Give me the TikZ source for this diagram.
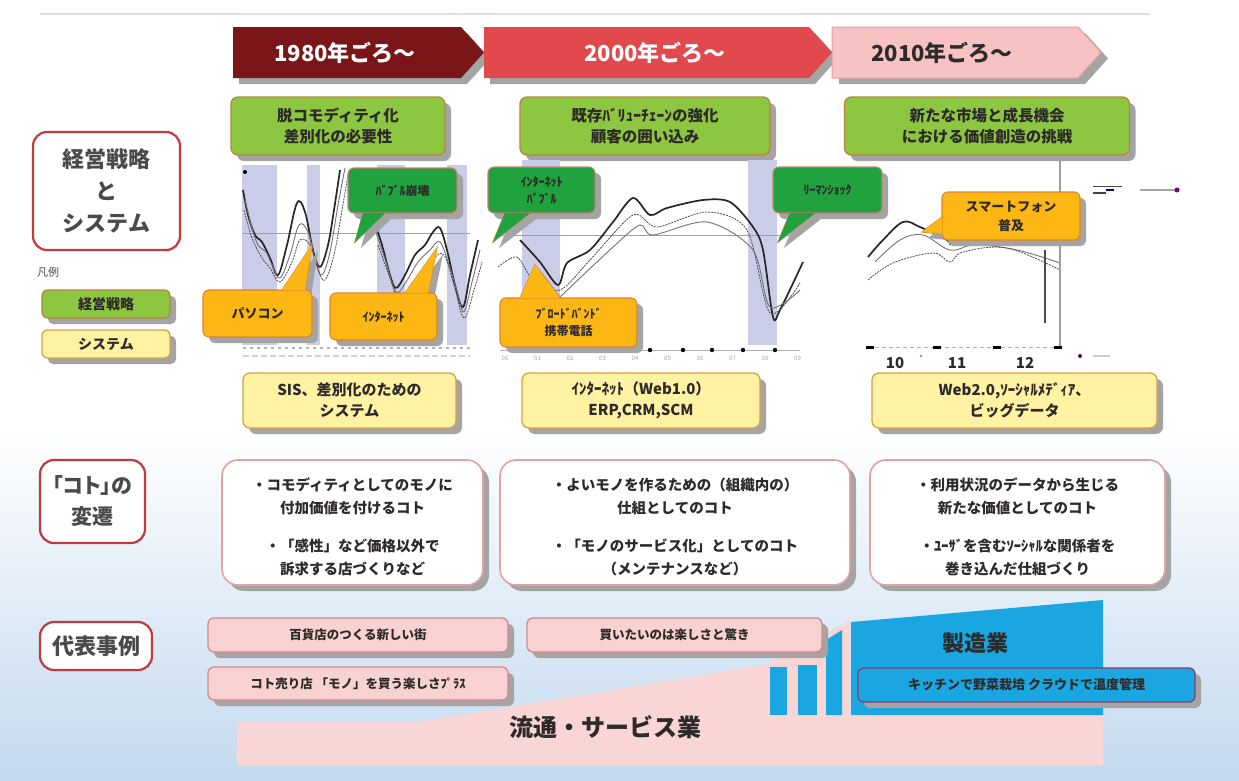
\documentclass[tikz,border=0pt]{standalone}
\usepackage{fontspec}
\setmainfont{Noto Sans CJK JP}
\newfontfamily\propfont{Noto Sans CJK JP}[RawFeature=+palt]
\usetikzlibrary{shadows}
\definecolor{hdrA}{HTML}{7A1518}
\definecolor{hdrB}{HTML}{E2494C}
\definecolor{hdrC}{HTML}{F6C2C2}
\definecolor{hdrCb}{HTML}{E3A0A0}
\definecolor{gfill}{HTML}{8DC641}
\definecolor{gborder}{HTML}{B8863B}
\definecolor{yfill}{HTML}{FFF2A3}
\definecolor{yborder}{HTML}{D9A043}
\definecolor{cgfill}{HTML}{20A23E}
\definecolor{cgborder}{HTML}{C98070}
\definecolor{cyfill}{HTML}{FDB714}
\definecolor{cyborder}{HTML}{E0822A}
\definecolor{kborder}{HTML}{E2A2A2}
\definecolor{lborder}{HTML}{C3393D}
\definecolor{cfill}{HTML}{F8D2D2}
\definecolor{cborder}{HTML}{D58888}
\definecolor{bfill}{HTML}{1AA7E1}
\definecolor{bborder}{HTML}{8A3C6E}
\definecolor{pband}{HTML}{F9D5D5}
\definecolor{shc}{HTML}{A4A4A4}
\definecolor{txt}{HTML}{2E2A2A}
\definecolor{ltxt}{HTML}{4A4A4A}
\definecolor{band}{HTML}{CACDE8}
\definecolor{hline}{HTML}{9A9CC8}
\definecolor{bgblue}{HTML}{C3D9EF}
\newcommand\callout[6]{%
  \fill[shc] ([shift={(6,6)}]#4) -- ([shift={(6,6)}]#6) -- ([shift={(6,6)}]#5) -- cycle;
  \fill[shc, rounded corners=6pt] ([shift={(6,6)}]#2) rectangle ([shift={(6,6)}]#3);
  \filldraw[#1] (#4) -- (#6) -- (#5) -- cycle;
  \filldraw[#1, rounded corners=6pt] (#2) rectangle (#3);
  \fill[#1, draw=none] (#4) -- (#6) -- (#5) -- cycle;
}
\tikzset{
  dsh/.style={drop shadow={shadow xshift=6pt,shadow yshift=-6pt,fill=shc,opacity=1}},
  gbox/.style={draw=gborder, fill=gfill, line width=1.3pt, rounded corners=7pt,
    minimum height=58pt, inner sep=0pt, align=center, text=txt,
    font=\fontsize{15.5}{21}\selectfont\bfseries, dsh},
  ybox/.style={draw=yborder, fill=yfill, line width=1.3pt, rounded corners=7pt,
    minimum height=55pt, inner sep=0pt, align=center, text=txt,
    font=\fontsize{15}{21}\selectfont\bfseries, dsh},
  kbox/.style={draw=kborder, fill=white, line width=1.6pt, rounded corners=16pt,
    minimum height=125pt, inner sep=0pt, text=txt, dsh},
  ktext/.style={align=center, text=txt, inner sep=0pt,
    font=\fontsize{14.5}{23}\selectfont\bfseries},
  lbox/.style={draw=lborder, fill=white, line width=2.2pt, rounded corners=14pt,
    inner sep=0pt, align=center, text=ltxt, font=\fontsize{22}{32}\selectfont\bfseries},
  cbox/.style={draw=cborder, fill=cfill, line width=1.3pt, rounded corners=6pt,
    inner sep=0pt, align=center, text=txt, font=\fontsize{12.5}{15}\selectfont\bfseries, dsh},
  hdrtext/.style={inner sep=0pt, font=\fontsize{22}{24}\selectfont\bfseries},
  calg/.style={fill=cgfill, draw=cgborder, line width=1.1pt},
  caly/.style={fill=cyfill, draw=cyborder, line width=1.1pt},
  ctext/.style={inner sep=0pt, align=center, text=txt, font=\fontsize{12}{17}\selectfont\bfseries},
  cthick/.style={draw=black!85, line width=1.7pt, line join=round},
  cmid/.style={draw=black!55, line width=0.9pt, line join=round},
  clow/.style={draw=black!70, line width=0.8pt, dash pattern=on 2pt off 1pt, line join=round},
}
\begin{document}
\begin{tikzpicture}[x=1pt,y=-1pt]
\useasboundingbox (0,0) rectangle (1239,780);
% background
\fill[white] (0,0) rectangle (1239,780);
\shade[top color=white, bottom color=bgblue] (0,430) rectangle (1239,780);
\draw[black!12, line width=1.5pt] (40,14) -- (1150,14);

% header arrows
\fill[shc] (839,33) -- (1085,33) -- (1108,58.5) -- (1085,84) -- (839,84) -- cycle;
\fill[shc] (490,33) -- (815,33) -- (838,58.5) -- (815,84) -- (490,84) -- cycle;
\fill[shc] (239,33) -- (467,33) -- (490,58.5) -- (467,84) -- (239,84) -- cycle;
\filldraw[fill=hdrC, draw=hdrCb, line width=1pt] (832,27) -- (1078,27) -- (1101,52.5) -- (1078,78) -- (832,78) -- cycle;
\fill[hdrB] (484,27) -- (809,27) -- (832,52.5) -- (809,78) -- (484,78) -- cycle;
\fill[hdrA] (233,27) -- (461,27) -- (484,52.5) -- (461,78) -- (233,78) -- cycle;
\node[hdrtext, text=white] (h1) at (345,53) {1980年ごろ～};
\node[hdrtext, text=white] (h2) at (655,53) {2000年ごろ～};
\node[hdrtext, text=txt] (h3) at (942,53) {2010年ごろ～};

% strategy boxes
\node[gbox, minimum width=214pt] (g1) at (338,126) {脱コモディティ化\\差別化の必要性};
\node[gbox, minimum width=250pt] (g2) at (645,126) {既存ﾊﾞﾘｭｰﾁｪｰﾝの強化\\顧客の囲い込み};
\node[gbox, minimum width=285pt] (g3) at (987,126) {新たな市場と成長機会\\における価値創造の挑戦};

% left labels
\node[lbox, minimum width=147pt, minimum height=118pt] (k1) at (106.5,191) {経営戦略\\と\\システム};
\node[text=ltxt, inner sep=0pt, font=\fontsize{11}{13}\selectfont] (hanrei) at (48,272) {凡例};
\node[gbox, minimum width=128pt, minimum height=28pt, rounded corners=5pt, font=\fontsize{14}{16}\selectfont\bfseries] (lg1) at (106,304) {経営戦略};
\node[ybox, minimum width=128pt, minimum height=28pt, rounded corners=5pt, font=\fontsize{14}{16}\selectfont\bfseries] (lg2) at (106,344) {システム};
\node[lbox, minimum width=105pt, minimum height=83pt, font=\fontsize{21}{31}\propfont\bfseries] (k2) at (92.5,501.5) {「コト」の\\変遷};
\node[lbox, minimum width=112pt, minimum height=48pt] (k3) at (96,646) {代表事例};

% chart bands
\fill[band] (242,165) rectangle (277,345);
\fill[band] (307,165) rectangle (320,345);
\fill[band] (377,165) rectangle (405,345);
\fill[band] (447,165) rectangle (467,345);
\fill[band] (522,160) rectangle (560,345);
\fill[band] (748,160) rectangle (777,345);
\draw[hline, line width=0.8pt] (243,233) -- (470,233);
\draw[hline, line width=0.8pt] (500,235) -- (800,235);
\fill[black] (245,172) circle (2pt);

% chart 1 lines
\draw[cthick] plot[smooth, tension=0.6] coordinates {(243,190) (248,215) (255,235) (262,242) (270,258) (278,275) (287,245) (297,203) (305,212) (313,250) (320,267) (328,245) (334,210) (340,170)};
\draw[cmid] plot[smooth, tension=0.6] coordinates {(245,200) (252,228) (258,245) (266,252) (272,265) (280,278) (290,255) (299,225) (308,232) (316,262) (322,275) (330,252) (338,205) (345,168)};
\draw[clow] plot[smooth, tension=0.6] coordinates {(244,210) (252,238) (262,258) (270,268) (280,282) (292,262) (300,240) (310,245) (318,270) (325,280) (334,255) (342,210) (348,175)};
\draw[cthick] plot[smooth, tension=0.6] coordinates {(372,215) (382,245) (390,275) (396,288) (405,275) (415,255) (425,245) (433,232) (440,228) (447,250) (455,285) (463,307) (470,275) (478,240)};
\draw[cmid] plot[smooth, tension=0.6] coordinates {(375,230) (386,262) (396,292) (406,282) (418,262) (430,250) (440,242) (450,268) (458,295) (464,312) (472,282) (480,250)};
\draw[clow] plot[smooth, tension=0.6] coordinates {(378,245) (390,278) (398,298) (410,290) (422,270) (434,258) (444,255) (454,285) (464,318) (474,290) (482,262)};
\draw[gray!60, line width=2pt, dash pattern=on 3pt off 4pt] (243,348) -- (470,348);
\draw[gray!35, line width=2.5pt, dash pattern=on 6pt off 3pt] (243,356) -- (470,356);

% chart 2 lines
\draw[cthick] plot[smooth, tension=0.5] coordinates {(520,240) (540,262) (558,285) (567,263) (590,250) (613,222) (633,198) (650,215) (667,208) (703,200) (730,202) (753,227) (763,250) (773,317) (780,310) (803,262)};
\draw[clow] plot[smooth, tension=0.5] coordinates {(498,267) (517,257) (533,280) (560,290) (590,260) (633,215) (657,227) (707,212) (747,230) (770,313) (800,283)};
\draw[cmid] plot[smooth, tension=0.5] coordinates {(560,297) (613,247) (640,225) (653,235) (707,222) (753,250) (770,307) (800,290)};
\draw[gray!60, line width=0.8pt] (500,350) -- (800,350);
\foreach \xx in {650,683,712,743,775} \fill[black] (\xx,350) circle (2.2pt);
\foreach \lab [count=\c from 0] in {00,01,02,03,04,05,06,07,08,09}
  \node[gray!70, inner sep=0pt, font=\fontsize{6}{7}\selectfont] (ax\c) at (505+\c*32.5,358) {\lab};

% chart 3 lines
\draw[cthick] plot[smooth, tension=0.6] coordinates {(868,257) (883,240) (903,222) (920,227) (947,240) (950,245)};
\draw[cmid] plot[smooth, tension=0.6] coordinates {(875,262) (900,240) (923,235) (950,250) (975,245) (1017,250) (1060,263)};
\draw[clow] plot[smooth, tension=0.6] coordinates {(868,280) (893,263) (933,253) (950,262) (963,252) (1007,248) (1060,270)};
\draw[gray!75, line width=1.6pt] (1060,158) -- (1060,347);
\draw[black!70, line width=1.6pt] (1045,250) -- (1045,323);
\draw[gray!60, line width=0.8pt, dash pattern=on 4pt off 3pt] (868,347) -- (1060,347);
\foreach \xx in {870,937,997,1058} \draw[black, line width=3pt] (\xx-4,347) -- (\xx+4,347);
\node[txt, inner sep=0pt, font=\fontsize{15}{17}\selectfont\bfseries] (t10) at (895,363) {10};
\node[txt, inner sep=0pt, font=\fontsize{15}{17}\selectfont\bfseries] (t11) at (957,363) {11};
\node[txt, inner sep=0pt, font=\fontsize{15}{17}\selectfont\bfseries] (t12) at (1025,363) {12};
\fill[blue!60] (921,356) circle (1.2pt);
% small legend marks
\draw[black!70, line width=1pt] (1093,186) -- (1122,186);
\draw[black!75, line width=1.5pt] (1093,193) -- (1106,193);
\draw[blue!60!black, line width=1.5pt] (1106,190) -- (1114,190);
\draw[gray!70, line width=1.8pt] (1140,190) -- (1175,190);
\fill[violet] (1177,190) circle (2.5pt);
\fill[violet!70!black] (1080,356) circle (2pt);
\draw[gray!40, line width=2.5pt] (1093,356) -- (1110,356);

% callouts
\callout{calg}{348,168}{457,213}{363,213}{385,213}{355,242}
\node[ctext] (cb1) at (402.5,190.5) {ﾊﾞﾌﾞﾙ崩壊};
\callout{caly}{203,290}{312,337}{282,290}{305,290}{312,245}
\node[ctext, font=\fontsize{13}{17}\selectfont\bfseries] (cb2) at (257.5,313.5) {パソコン};
\callout{caly}{330,293}{437,340}{405,293}{428,293}{437,248}
\node[ctext] (cb3) at (383.5,316.5) {ｲﾝﾀｰﾈｯﾄ};
\callout{calg}{488,167}{595,213}{505,213}{530,213}{493,242}
\node[ctext] (cb4) at (541.5,190) {ｲﾝﾀｰﾈｯﾄ\\ﾊﾞﾌﾞﾙ};
\callout{caly}{500,298}{637,347}{520,298}{560,298}{535,265}
\node[ctext] (cb5) at (568.5,322.5) {ﾌﾞﾛｰﾄﾞﾊﾞﾝﾄﾞ\\携帯電話};
\callout{calg}{773,167}{882,213}{790,213}{815,213}{778,242}
\node[ctext] (cb6) at (827.5,190) {ﾘｰﾏﾝｼｮｯｸ};
\callout{caly}{942,192}{1080,240}{942,217}{942,234}{922,232}
\node[ctext, font=\fontsize{13}{19}\selectfont\bfseries] (cb7) at (1011,216) {スマートフォン\\普及};

% system boxes
\node[ybox, minimum width=213pt] (y1) at (349.5,400.5) {SIS、差別化のための\\システム};
\node[ybox, minimum width=238pt] (y2) at (641,400.5) {ｲﾝﾀｰﾈｯﾄ（Web1.0）\\ERP,CRM,SCM};
\node[ybox, minimum width=285pt] (y3) at (1014.5,400.5) {Web2.0,ｿｰｼｬﾙﾒﾃﾞｨｱ、\\ビッグデータ};

% koto boxes
\node[kbox, minimum width=261pt] (kb1) at (352.5,522.5) {};
\node[ktext] (kt1) at (352.5,527) {・コモディティとしてのモノに\\付加価値を付けるコト\\[15pt]・「感性」など価格以外で\\訴求する店づくりなど};
\node[kbox, minimum width=350pt] (kb2) at (675,522.5) {};
\node[ktext] (kt2) at (675,527) {・よいモノを作るための（組織内の）\\仕組としてのコト\\[15pt]・「モノのサービス化」としてのコト\\（メンテナンスなど）};
\node[kbox, minimum width=295pt] (kb3) at (1017.5,522.5) {};
\node[ktext] (kt3) at (1017.5,527) {・利用状況のデータから生じる\\新たな価値としてのコト\\[15pt]・ﾕｰｻﾞを含むｿｰｼｬﾙな関係者を\\巻き込んだ仕組づくり};

% industry bands
\fill[pband] (237,765) -- (237,722) -- (420,722) -- (769,664) -- (850,620) -- (850,715) -- (1103,715) -- (1103,765) -- cycle;
\fill[bfill] (770,667) rectangle (787,715);
\fill[bfill] (798,665) rectangle (817,715);
\fill[bfill] (826,640) -- (842,630) -- (842,715) -- (826,715) -- cycle;
\fill[bfill] (851,622) -- (1103,600) -- (1103,715) -- (851,715) -- cycle;
\node[txt, inner sep=0pt, font=\fontsize{24}{28}\selectfont\bfseries] (ryutsu) at (605,727) {流通・サービス業};
\node[txt, inner sep=0pt, font=\fontsize{22}{26}\selectfont\bfseries] (seizo) at (975,643) {製造業};

% case boxes
\node[cbox, minimum width=300pt, minimum height=34pt] (c1) at (358,635) {百貨店のつくる新しい街};
\node[cbox, minimum width=300pt, minimum height=33pt] (c2) at (358,683.5) {コト売り店 「モノ」を買う楽しさﾌﾟﾗｽ};
\node[cbox, minimum width=295pt, minimum height=34pt] (c3) at (674.5,635) {買いたいのは楽しさと驚き};
\node[cbox, fill=bfill, draw=bborder, minimum width=337pt, minimum height=34pt, font=\fontsize{13}{15}\selectfont\bfseries] (c4) at (1026.5,685) {キッチンで野菜栽培 クラウドで温度管理};
\end{tikzpicture}
\end{document}
